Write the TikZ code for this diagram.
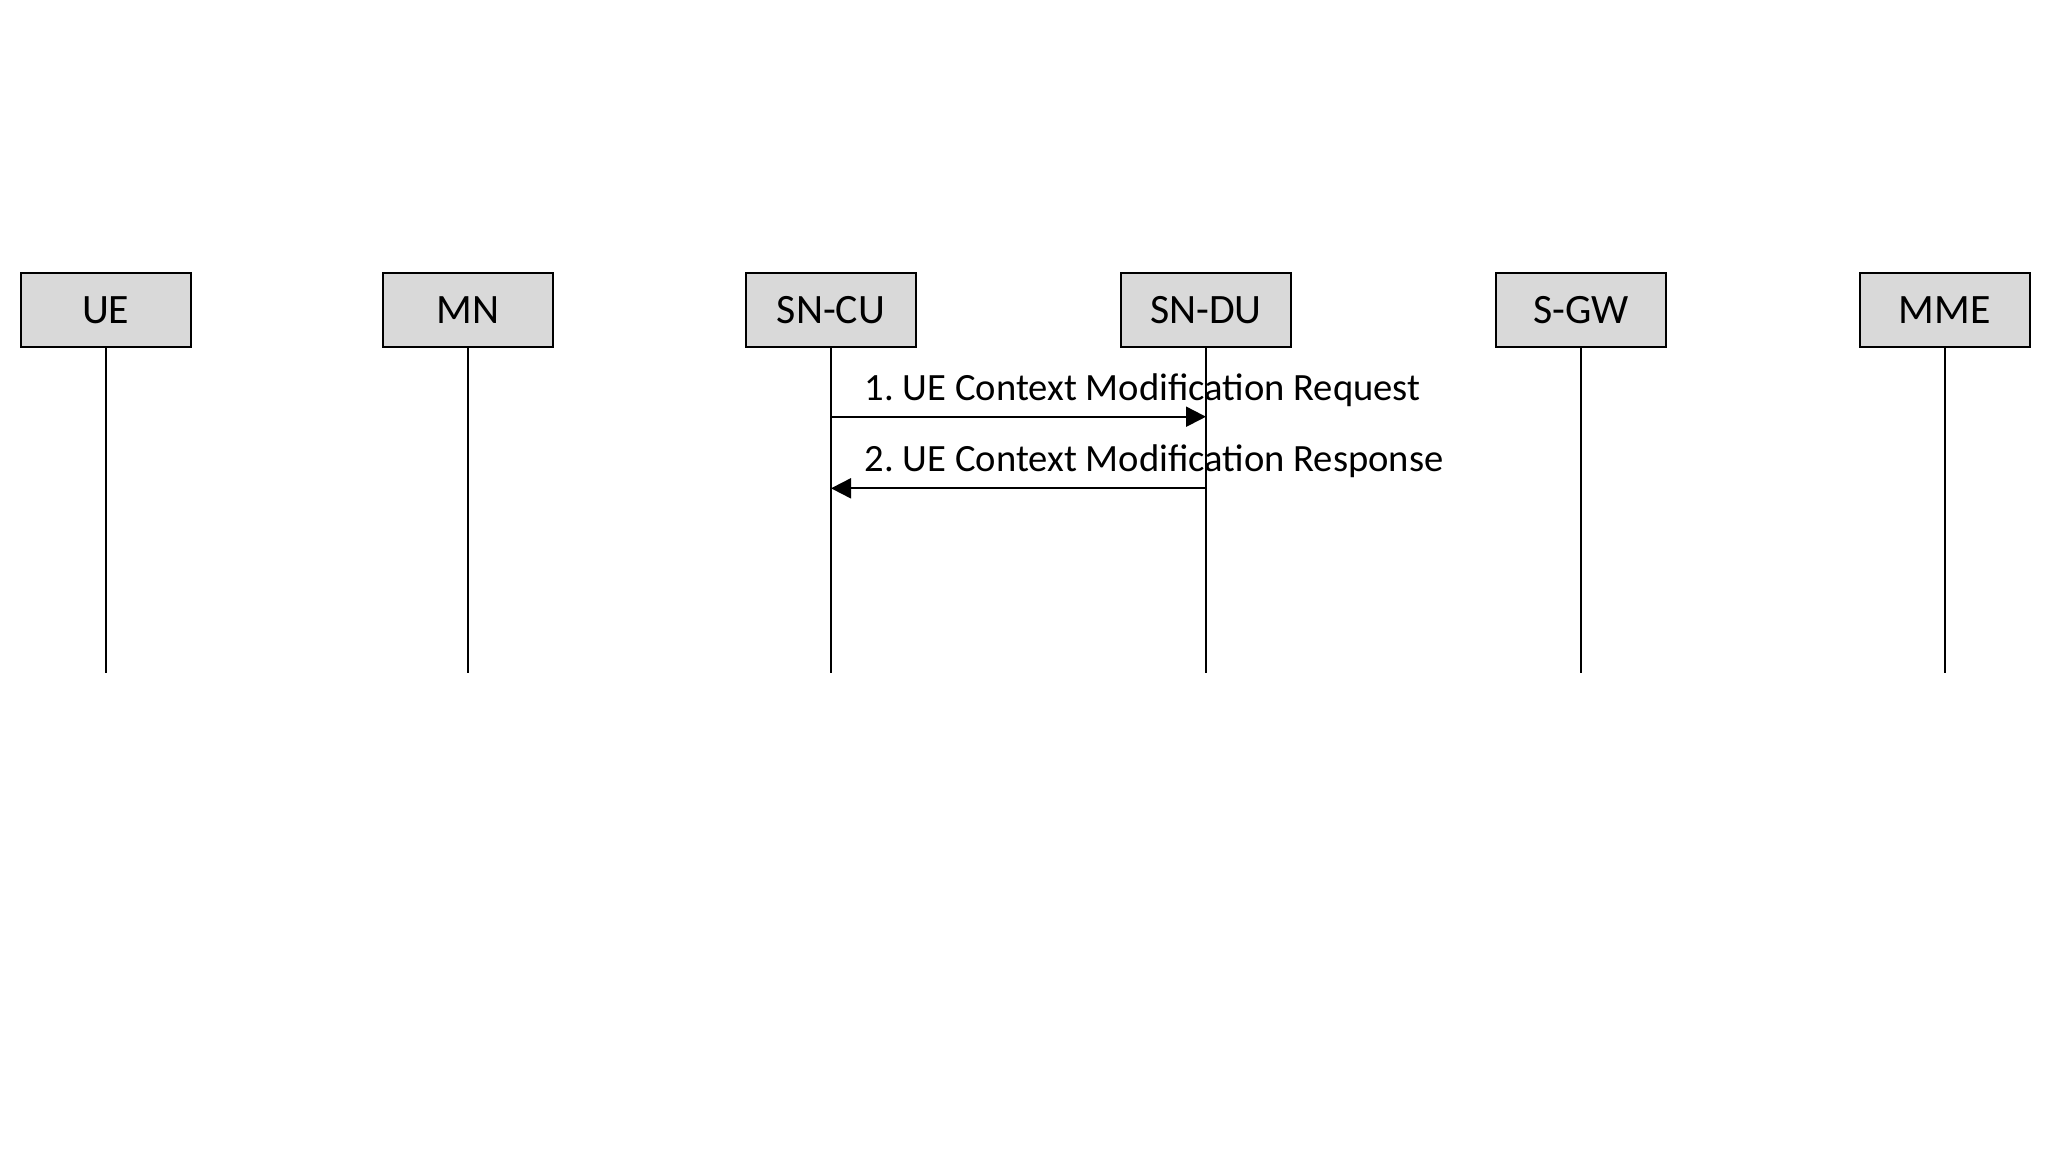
\documentclass[tikz,border=0pt]{standalone}
\usepackage{fontspec}
\setmainfont{Carlito}
\usetikzlibrary{arrows.meta}
\definecolor{boxgray}{HTML}{D9D9D9}
\frenchspacing
\tikzset{
  entity/.style={draw=black, line width=1pt, fill=boxgray, minimum width=85pt, minimum height=36.7pt,
    inner sep=0pt, text height=13.2pt, text depth=0pt, font=\fontsize{20.9}{24}\selectfont},
  lifeline/.style={draw=black, line width=1pt},
  msg/.style={draw=black, line width=1pt, -{Triangle[length=10pt,width=10pt]}},
  msglabel/.style={anchor=base west, inner sep=0pt, font=\fontsize{19.3}{23}\selectfont}
}
\begin{document}
\begin{tikzpicture}[x=0.5pt,y=-0.5pt]
\useasboundingbox (0,0) rectangle (2048,1153);
% entities
\node[entity] (ue)  at (105.7,310) {UE};
\node[entity] (mn)  at (468,310) {MN};
\node[entity] (cu)  at (831,310) {SN-CU};
\node[entity] (du)  at (1206,310) {SN-DU};
\node[entity] (sgw) at (1581,310) {S-GW};
\node[entity] (mme) at (1944.5,310) {MME};
% lifeline ends
\coordinate (ueE)  at (105.7,672.7);
\coordinate (mnE)  at (468,672.7);
\coordinate (cuE)  at (831,672.7);
\coordinate (duE)  at (1206,672.7);
\coordinate (sgwE) at (1581,672.7);
\coordinate (mmeE) at (1944.5,672.7);
\foreach \n in {ue,mn,cu,du,sgw,mme} \draw[lifeline] (\n.south) -- (\n E);
% message points
\coordinate (m1a) at (831,416.7);
\coordinate (m1b) at (1206,416.7);
\coordinate (m2a) at (1206,488.3);
\coordinate (m2b) at (831,488.3);
\draw[msg] (m1a) -- (m1b);
\draw[msg] (m2a) -- (m2b);
\node[msglabel] (l1) at (864.5,400.7) {1. UE Context Modification Request};
\node[msglabel] (l2) at (864.5,471) {2. UE Context Modification Response};
\end{tikzpicture}
\end{document}
